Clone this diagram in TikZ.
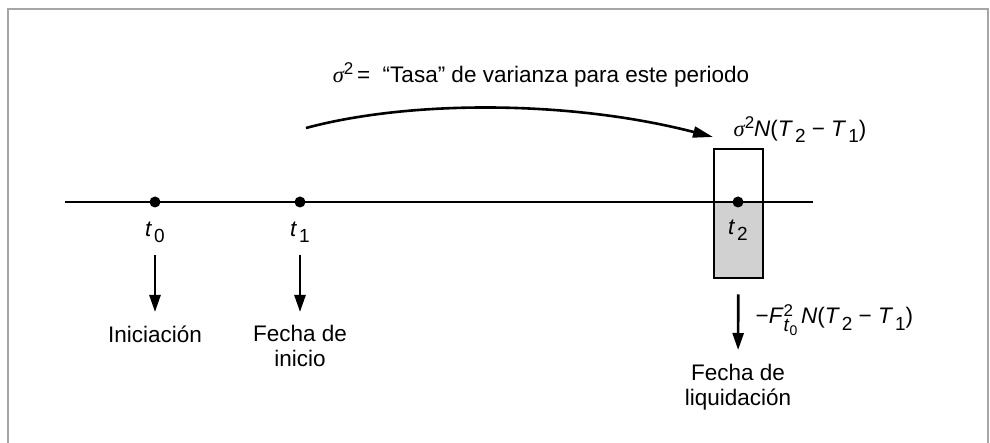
\documentclass[tikz,border=0pt]{standalone}
\usepackage{fontspec}
\setmainfont{Liberation Sans}
\newfontfamily\greekfont{Liberation Serif}
\usetikzlibrary{arrows.meta,positioning}

\newcommand{\sigsym}{{\greekfont\itshape σ}}
\newcommand{\lowsub}[1]{\kern2pt\raisebox{-6pt}{\fontsize{19}{22}\selectfont #1}}
\newcommand{\hisup}[1]{\raisebox{8pt}{\fontsize{17}{20}\selectfont #1}}

\begin{document}
\begin{tikzpicture}[x=1pt,y=-1pt,line width=1.3pt,
  every node/.style={font=\fontsize{22.5}{25}\selectfont,inner sep=0pt},
  dot/.style={circle,fill,inner sep=0pt,minimum size=11pt},
  down/.style={-{Triangle[length=17pt,width=11pt]},line width=2.6pt},
  label/.style={align=center,anchor=north}]
\path[use as bounding box] (0,0) rectangle (990,443);
% frame
\draw[gray!70,line width=2pt] (8,443) -- (8,9) -- (988,9) -- (988,443);
% time line
\draw (65,202) -- (813,202);
% settlement box
\fill[black!18] (714,202) rectangle (763,278);
\node[draw,line width=2.6pt,minimum width=49pt,minimum height=129pt] (box) at (738.5,213.5) {};
\draw (714,202) -- (763,202);
\node[dot] (d0) at (155,202) {};
\node[dot] (d1) at (300,202) {};
\node[dot] (d2) at (738,202) {};
\node[anchor=base] (t0) at (155,237) {\textit{t}\lowsub{0}};
\node[anchor=base] (t1) at (300,237) {\textit{t}\lowsub{1}};
\node[anchor=base] (t2) at (738,235) {\textit{t}\lowsub{2}};
\node[label] (ini) at (155,325) {Iniciación};
\node[label] (start) at (300,325) {Fecha de\\inicio};
\node[label] (settle) at (738,364) {Fecha de\\liquidación};
\draw[down,shorten <=11pt,shorten >=13pt] (t0) -- (ini);
\draw[down,shorten <=11pt,shorten >=13pt] (t1) -- (start);
\draw[down,shorten <=15pt,shorten >=14pt] (box) -- (settle);
% variance
\node[anchor=base] (rate) at (541,83) {\sigsym\hisup{2}\,= \ “Tasa” de varianza para este periodo};
\node[anchor=base west] (boxvar) at (733,137) {\sigsym\hisup{2}\textit{N}(\textit{T}\lowsub{2}\ − \textit{T}\lowsub{1})};
\node[anchor=base west] (fwdvar) at (755,324) {−\textit{F}\rlap{\hisup{2}}\raisebox{-7pt}{\fontsize{19}{22}\selectfont\textit{t}\raisebox{-4pt}{\fontsize{14}{16}\selectfont 0}}\,\textit{N}(\textit{T}\lowsub{2}\ − \textit{T}\lowsub{1})};
\coordinate (from) at (306,128);
\coordinate (to) at (713,137);
\draw[-{Triangle[length=20pt,width=11pt]},line width=2.6pt] (from) .. controls (410,100) and (570,100) .. (to);
\end{tikzpicture}
\end{document}
